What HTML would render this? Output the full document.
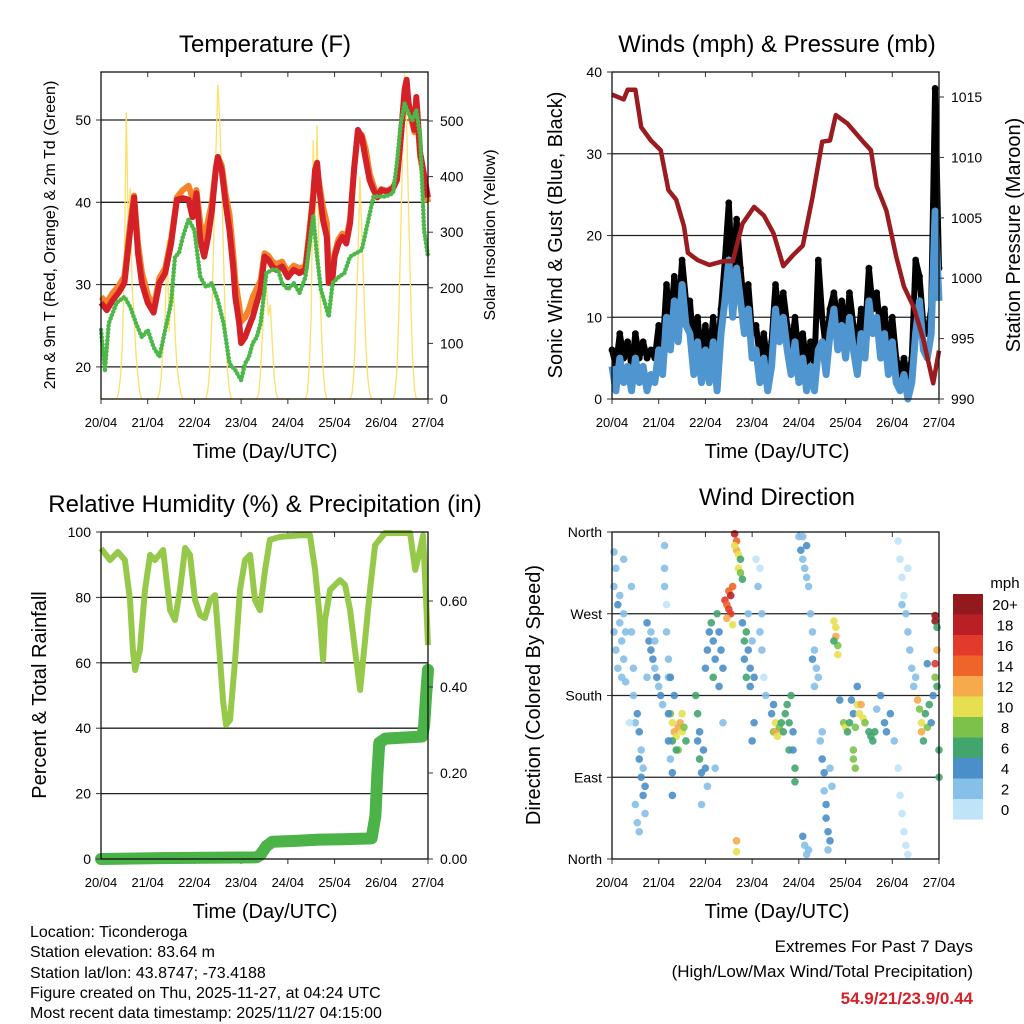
<!DOCTYPE html>
<html><head><meta charset="utf-8">
<style>
html,body{margin:0;padding:0;background:#fff;}
svg{display:block;font-family:"Liberation Sans",sans-serif;}
</style></head>
<body>
<svg id="chart" width="1024" height="1024" viewBox="0 0 1024 1024" xmlns="http://www.w3.org/2000/svg">
<rect x="0" y="0" width="1024" height="1024" fill="#fff"/>
<text x="265" y="52" font-size="24" text-anchor="middle">Temperature (F)</text>
<text x="777" y="52" font-size="24" text-anchor="middle">Winds (mph) &amp; Pressure (mb)</text>
<text x="265" y="512" font-size="24" text-anchor="middle">Relative Humidity (%) &amp; Precipitation (in)</text>
<text x="777" y="505" font-size="24" text-anchor="middle">Wind Direction</text>
<text transform="translate(55,235) rotate(-90)" font-size="16" text-anchor="middle">2m &amp; 9m T (Red, Orange) &amp; 2m Td (Green)</text>
<text transform="translate(495,235) rotate(-90)" font-size="16" text-anchor="middle">Solar Insolation (Yellow)</text>
<text transform="translate(562,235) rotate(-90)" font-size="20" text-anchor="middle">Sonic Wind &amp; Gust (Blue, Black)</text>
<text transform="translate(1020,235) rotate(-90)" font-size="20" text-anchor="middle">Station Pressure (Maroon)</text>
<text transform="translate(46,695) rotate(-90)" font-size="20" text-anchor="middle">Percent &amp; Total Rainfall</text>
<text transform="translate(540,695) rotate(-90)" font-size="20" text-anchor="middle">Direction (Colored By Speed)</text>
<text x="265" y="458" font-size="20" text-anchor="middle">Time (Day/UTC)</text>
<text x="777" y="458" font-size="20" text-anchor="middle">Time (Day/UTC)</text>
<text x="265" y="918" font-size="20" text-anchor="middle">Time (Day/UTC)</text>
<text x="777" y="918" font-size="20" text-anchor="middle">Time (Day/UTC)</text>
<g font-size="16">
<text x="30" y="937">Location: Ticonderoga</text>
<text x="30" y="957">Station elevation: 83.64 m</text>
<text x="30" y="978">Station lat/lon: 43.8747; -73.4188</text>
<text x="30" y="998">Figure created on Thu, 2025-11-27, at 04:24 UTC</text>
<text x="30" y="1018">Most recent data timestamp: 2025/11/27 04:15:00</text>
</g>
<g font-size="17" text-anchor="end">
<text x="973" y="952">Extremes For Past 7 Days</text>
<text x="973" y="977">(High/Low/Max Wind/Total Precipitation)</text>
<text x="973" y="1004" fill="#d42027" font-weight="bold">54.9/21/23.9/0.44</text>
</g>
<text x="1005" y="588" font-size="15" text-anchor="middle">mph</text>
</svg>
<script>
// ---------- data ----------
const dayLabels = ["20/04","21/04","22/04","23/04","24/04","25/04","26/04","27/04"];
const tempT = [0,3,6,9,12,15,17,19,21,24,27,30,33,36,39,42,45,47,49,51,53,55,57,59,60,62,64,66,68,69,71,72,74,76,78,80,82,84,86,88,90,93,96,99,102,105,107,109,110,111,112,114,116,117,119,120,122,124,126,128,130,132,134,136,138,140,142,144,147,150,152,154,156,157,158,160,161,162,164,168];
const temp2m = [27.8,26.9,28.1,29,30.2,36.6,40.6,33.8,30.2,27.8,26.6,30.2,31.4,35,40.3,40.5,40.3,38.2,41.1,35.4,33.4,35.8,39,43.9,45.5,43.9,39.9,36.6,31.8,28.5,25.3,22.9,23.6,24.9,26.1,27.8,29.4,33.4,33,32.2,31.8,32.2,30.9,31.8,31.4,31.8,35.8,40.6,43.9,44.8,41.9,37.9,35.8,30.2,30.9,33.4,35,35.8,35,37.5,43.9,48.8,47.9,45.2,42.7,41.5,40.6,41.5,41.3,41.7,42.7,47.9,53.7,54.9,52.1,50,48.8,52.8,46,40.6];
const temp9m = [28.5,27.8,29,29.8,31,37.5,40.8,35,31.5,28.8,27.2,30.8,32,35.5,40.6,41.5,42,40.5,41.5,37.5,35.5,37.8,40,44.2,45.5,44.5,41,38.5,33.5,30.5,27.5,25.5,26,27,28.5,29.5,30.5,33.8,33.5,32.8,32.5,32.8,31.5,32.3,32,32.2,36.5,41,44,44.5,42.5,39.5,37.5,31.5,31.5,33.8,35.5,36.2,35.5,38,44,48.5,48.2,46.5,43.5,42,40.8,41.6,41.4,41.8,42.8,48,53,54,51.8,49.5,48.5,52,45.5,40];
const dewT = [0,2,4,8,12,15,18,21,24,27,30,33,36,38,40,42,45,48,51,54,57,60,63,66,69,72,74,76,78,80,82,85,88,91,93,96,99,102,105,108,109,111,113,115,117,119,122,125,128,131,134,137,140,143,146,150,152,154,156,158,160,162,164,166,168];
const dewpoint = [24.5,19.6,25.3,27.8,28.5,27.3,25.3,23.6,24.5,22.4,21.2,24.5,27.8,33.4,33.8,35.8,37.9,36.6,30.9,29.7,30.2,28.1,25.3,20.4,19.6,18.4,20.4,21.2,22.9,23.6,25.3,31.4,31.8,31.8,30.2,29.4,30.2,29,30.9,36.6,38.3,33.4,29.4,27.8,26.1,30.2,30.9,31.4,33.4,33.8,34.2,37.5,40.7,40.7,40.7,41.1,44.7,49.6,52,50.8,50,51.2,48,36.6,33.4];
const solarT = [0,8,9,10,11,12,13,14,15,16,17,18,19,20,21,29,30,31,32,33,34,35,36,37,38,39,40,41,42,54,55,56,57,58,59,60,61,62,63,64,65,66,67,80,81,82,83,84,85,86,87,88,89,90,91,105,106,107,108,109,110,111,112,113,114,115,116,128,129,130,131,132,133,134,135,136,137,138,139,150,151,152,153,154,155,156,157,158,159,160,161,162,168];
const solarV = [0,0,10,40,100,250,516,300,380,200,150,80,40,10,0,0,10,40,100,150,286,120,200,232,120,60,30,10,0,0,20,60,150,300,435,565,502,400,250,120,50,15,0,0,10,50,120,180,201,150,170,100,40,10,0,0,10,60,150,466,300,493,250,150,60,15,0,0,10,50,150,250,400,300,200,100,40,10,0,0,10,50,150,300,450,586,500,350,200,80,20,0,0];
const windT = [0,2,4,6,8,10,12,14,16,18,20,22,24,26,28,30,32,34,36,38,40,42,44,46,48,50,52,54,56,58,60,62,64,66,68,70,72,74,76,78,80,82,84,86,88,90,92,94,96,98,100,102,104,106,108,110,112,114,116,118,120,122,124,126,128,130,132,134,136,138,140,142,144,146,148,150,152,154,156,158,160,162,164,166,168];
const windSpeed = [4,1,5,2,4,1,5,2,4,1,3,2,6,3,10,6,12,7,14,9,8,3,7,2,6,2,7,1,8,12,17,10,16,12,8,11,5,6,2,5,1,4,11,7,10,6,3,7,2,5,1,4,1,6,7,3,8,11,6,9,5,10,6,3,8,5,12,8,10,5,8,3,7,2,1,3,0,2,8,12,6,5,8,23,12];
const windGust = [6,4,8,5,7,4,8,5,7,5,6,5,9,6,14,9,15,10,17,12,12,6,10,5,9,5,10,4,11,17,24,14,22,16,11,14,8,9,5,8,4,7,14,10,13,9,6,10,5,8,4,7,4,17,10,6,11,13,9,12,8,13,9,6,11,8,16,11,13,8,11,6,10,5,3,5,2,5,17,15,9,8,11,38,16];
const presT = [0,6,8,12,15,20,25,29,33,37,39,44,50,57,62,67,73,78,83,88,93,98,103,108,112,115,121,129,133,136,141,146,150,155,160,165,168];
const pressure = [1015.2,1014.8,1015.6,1015.6,1012.5,1011.4,1010.6,1007.3,1006.5,1004.3,1002.1,1001.5,1001.1,1001.4,1001.4,1004.5,1005.9,1005.2,1003.7,1001,1001.9,1002.7,1006.7,1011.3,1011.4,1013.5,1012.8,1011.3,1010.6,1007.6,1005.6,1001.8,999.3,997.6,994.9,991.3,994];
const rhT = [0,4.6,8.7,12.3,14.9,16.4,17.5,20,22.6,25.2,27.7,31.9,35.5,38,40.6,43.2,45.7,48.3,50.9,53.4,56,58.6,61.2,62.7,64.2,66.3,68.9,71.4,74,76.6,79.1,81.7,84.3,86.8,92,102.3,107.4,110,112.5,114.1,115.1,117.7,122.8,125.4,128,130.5,133.1,135.7,138.2,140.8,145.9,158.8,161.4,163.9,165.5,167,168];
const rh = [95,91.4,93.9,91.4,79.2,63.9,57.8,63.9,82.3,93,91.4,94.5,76.1,73.1,82.3,95.1,93,79.2,74.6,73.7,79.2,80.7,60.9,48.6,41,42.5,60.9,82.3,91.4,93,79.2,76.1,88.4,97.6,98.5,99,99,88.4,73.1,60.9,73.1,82.3,85.3,83.8,76.1,63.9,51.7,67,82.3,96,99.7,99.7,88.4,94.5,99,79.2,65.4];
const rainT = [0,30,80,82,85,88,100,112,124,139,141,142,143,146,165,166,167,168];
const rain = [0,0.002,0.004,0.01,0.03,0.04,0.042,0.045,0.046,0.048,0.1,0.2,0.27,0.28,0.285,0.31,0.38,0.44];
const dirT = [1,1,2,2,3,3,4,4,5,5,6,6,7,7,1,6, 10,10,11,11,12,9, 13,14,14,15,15,16,16,17,17,13,14,12, 18,19,20,21,22,23,24,25,26,20,22,18, 27,27,28,28,29,29,27, 30,31,32,33,34,35,36,34,37,38,31,36,33, 29,30,31,31,29,32,30, 43,44,45,45,46,47,48,49,44,46, 48,49,50,51,52,53,54,55,56,57,52,55,53,57, 58,59,60,60,61,61,62,59,62, 63,64,64,65,65,66,66,67,63, 67,68,68,69,69,70,71,71,72,73,70,73,72, 74,75,76,77,78,77,79,76, 82,83,84,84,85,86,87,88,89,90,91,92,83,91, 93,94,94,93, 96,97,98,99,100,101,98,100,99,100,98,101, 102,103,104,105,104,106,103, 107,108,109,109,110,110,111,112,111,108,112,113, 114,115,115,116,116,114, 117,119,120,121,122,124,125,126,127,128,129,130,132,133,134,135,136,138,140,141,143,145,123,126, 124,124,125, 147,148,149,150,151,152,153,154,152,155,149,156, 147,148,149,150,151,152, 157,158,159,159,160,161,162,163,164,165,166,167,168,168,162, 166,166,167,166,167, 64,64];
const dirDeg = [300,250,320,230,280,210,260,290,240,200,270,220,250,195,338,330, 300,250,210,180,150,150, 160,140,110,120,90,100,70,80,50,40,30,60, 260,240,230,220,210,200,190,180,170,250,240,200, 345,300,280,250,220,200,320, 160,150,140,135,145,150,140,120,145,130,130,160,120, 130,110,95,70,160,180,200, 180,160,140,110,95,120,100,80,130,60, 210,230,250,260,240,220,270,250,230,210,200,190,100,150, 285,280,275,295,290,270,300,265,258, 358,350,340,335,320,315,330,308,345, 260,240,220,250,200,230,210,190,240,200,270,150,130, 330,300,250,230,200,270,180,320, 160,140,150,140,135,145,150,140,160,170,150,180,170,120, 120,100,85,140, 355,340,330,320,310,300,355,345,15,5,25,10, 270,250,230,210,190,200,220, 130,110,95,75,60,45,30,20,10,140,100,80, 262,255,245,235,225,240, 175,150,145,140,150,160,145,170,160,170,155,150,140,135,130,140,165,180,150,140,160,130,175,190, 120,110,100, 350,330,310,290,270,250,230,210,320,190,280,200, 100,70,50,30,15,5, 175,165,150,140,130,160,145,170,150,180,200,190,120,90,215, 268,262,255,215,230, 20,8];
const dirSpeed = [3,3,2,3,4,2,3,2,3,3,3,2,3,2,2,2, 2,2,2,2,2,1, 4,4,4,3,4,3,4,4,3,3,3,3, 4,4,4,4,3,4,3,4,3,2,2,2, 2,2,1,2,2,3,2, 8,11,12,10,13,12,10,8,9,7,6,11,6, 4,3,4,4,4,4,4, 6,6,5,6,4,4,4,3,4,3, 5,4,4,6,5,4,6,4,5,4,6,4,2,2, 16,14,17,15,18,17,14,13,11, 18,15,13,11,10,8,7,6,10, 4,6,5,6,7,4,5,4,3,4,3,4,4, 1,2,2,2,1,2,2,1, 5,9,10,12,10,8,7,6,7,6,7,6,4,6, 5,6,6,5, 3,4,3,3,2,3,2,4,3,2,4,3, 3,2,2,3,2,3,4, 3,4,4,3,4,4,4,4,3,3,2,3, 10,10,12,8,10,7, 4,8,10,7,6,5,8,10,11,12,10,8,6,6,7,6,3,4,4,5,4,3,4,4, 8,8,8, 1,0,1,1,2,2,3,3,1,2,2,3, 1,0,1,1,1,1, 12,8,10,12,7,6,8,6,4,5,8,6,6,6,4, 20,20,6,16,12, 12,10];
const cbLabels = ["20+","18","16","14","12","10","8","6","4","2","0"];
const cbColors = ["#921a1d","#bb1f26","#e23a2c","#ef6428","#f6aa4b","#e6e050","#7cc24a","#42a56e","#4a8fc9","#86bfe8","#bfe4f8"];

// ---------- scales ----------
const NS = "http://www.w3.org/2000/svg";
const svg = document.getElementById("chart");
const PW = 327, HOURS = 168;
const xL = t => 101 + t * PW / HOURS;
const xR = t => 612 + t * PW / HOURS;
const yTemp = v => 399 - (v - 16.1) * 8.23;
const ySolar = v => 399 - v * 0.556;
const yWind = v => 399 - v * 8.175;
const yPres = p => 399 - (p - 990) * 12.08;
const yRH = v => 859 - v * 3.27;
const yRain = r => 859 - r * 430;
const yDir = d => 532 + (360 - d) / 360 * 327;
function colorFor(s){ let i = Math.min(10, Math.floor(s / 2)); return cbColors[10 - i]; }

function mk(tag, attrs, parent){
  const el = document.createElementNS(NS, tag);
  for (const k in attrs) el.setAttribute(k, attrs[k]);
  (parent || svg).appendChild(el);
  return el;
}
function pts(ts, vs, fx, fy){ return ts.map((t,i)=>fx(t).toFixed(1)+","+fy(vs[i]).toFixed(1)).join(" "); }

// ---------- panel frames, grids, ticks ----------
function panel(x0, y0, name, gridYs){
  const g = mk("g", {});
  
  
  gridYs.forEach(y => {
    const l = mk("line", {x1:x0, x2:x0+PW, y1:y, y2:y, stroke:"#222", "stroke-width":1.3}, g);
    
    
  });
  dayLabels.forEach((lab, i) => {
    const x = x0 + i * 24 * PW / HOURS;
    const tb = mk("line", {x1:x, x2:x, y1:y0+PW, y2:y0+PW+5, stroke:"#333", "stroke-width":1}, g);
    
    
    const tt = mk("line", {x1:x, x2:x, y1:y0, y2:y0+5, stroke:"#333", "stroke-width":1}, g);
    
    
    const tx = mk("text", {x:x, y:y0+PW+28, "font-size":13, "text-anchor":"middle"}, g);
    tx.textContent = lab;
    
    
  });
  return g;
}
function frame(x0, y0, g){
  const r = mk("rect", {x:x0, y:y0, width:PW, height:PW, fill:"none", stroke:"#111", "stroke-width":1.3}, g);
  
  
}
function yTicks(vals, labels, fy, xAxis, side, g, name){
  vals.forEach((v,i) => {
    const y = fy(v);
    const dx = side === "left" ? -5 : 5;
    const tk = mk("line", {x1:xAxis, x2:xAxis+dx, y1:y, y2:y, stroke:"#333"}, g);
    
    
    const tx = mk("text", {x: side==="left" ? xAxis-10 : xAxis+12, y:y+5, "font-size":14, "text-anchor": side==="left"?"end":"start"}, g);
    tx.textContent = labels[i];
    
    
  });
}

// Panel 1: temperature
const g1 = panel(101, 72, "temperature-panel", [20,30,40,50].map(yTemp));
const sol = mk("polyline", {points:pts(solarT, solarV, xL, ySolar), fill:"none", stroke:"#fbe06a", "stroke-width":1.3}, g1);


const t9 = mk("polyline", {points:pts(tempT, temp9m, xL, yTemp), fill:"none", stroke:"#f6822a", "stroke-width":6, "stroke-linejoin":"round"}, g1);


const t2 = mk("polyline", {points:pts(tempT, temp2m, xL, yTemp), fill:"none", stroke:"#d42027", "stroke-width":6, "stroke-linejoin":"round"}, g1);


const td = mk("polyline", {points:pts(dewT, dewpoint, xL, yTemp), fill:"none", stroke:"#4cb848", "stroke-width":4.5, "stroke-dasharray":"0.1 3.6", "stroke-linecap":"round"}, g1);


frame(101, 72, g1);
yTicks([20,30,40,50], ["20","30","40","50"], yTemp, 101, "left", g1, "temp-y");
yTicks([0,100,200,300,400,500], ["0","100","200","300","400","500"], ySolar, 428, "right", g1, "solar-y");

// Panel 2: winds & pressure
const g2 = panel(612, 72, "winds-panel", [10,20,30].map(yWind));
const gl = mk("polyline", {points:pts(windT, windGust, xR, yWind), fill:"none", stroke:"#000", "stroke-width":6, "stroke-linejoin":"round"}, g2);


windT.forEach((t,i) => {
  const c = mk("circle", {cx:xR(t), cy:yWind(windGust[i]), r:3.4, fill:"#000"}, g2);
  
  
});
const ws = mk("polyline", {points:pts(windT, windSpeed, xR, yWind), fill:"none", stroke:"#4f96d0", "stroke-width":7, "stroke-linejoin":"round"}, g2);


const pr = mk("polyline", {points:pts(presT, pressure, xR, yPres), fill:"none", stroke:"#9b1c20", "stroke-width":4.5, "stroke-linejoin":"round"}, g2);


frame(612, 72, g2);
yTicks([0,10,20,30,40], ["0","10","20","30","40"], yWind, 612, "left", g2, "wind-y");
yTicks([990,995,1000,1005,1010,1015], ["990","995","1000","1005","1010","1015"], yPres, 939, "right", g2, "pressure-y");

// Panel 3: humidity & rain
const g3 = panel(101, 532, "humidity-panel", [20,40,60,80].map(yRH));
const rhl = mk("polyline", {points:pts(rhT, rh, xL, yRH), fill:"none", stroke:"#96c94a", "stroke-width":6, "stroke-linejoin":"round"}, g3);


const rl = mk("polyline", {points:pts(rainT, rain, xL, yRain), fill:"none", stroke:"#4bb347", "stroke-width":12, "stroke-linejoin":"round", "stroke-linecap":"round"}, g3);


frame(101, 532, g3);
yTicks([0,20,40,60,80,100], ["0","20","40","60","80","100"], yRH, 101, "left", g3, "humidity-y");
yTicks([0,0.2,0.4,0.6], ["0.00","0.20","0.40","0.60"], yRain, 428, "right", g3, "rain-y");

// Panel 4: wind direction
const g4 = panel(612, 532, "direction-panel", [270,180,90].map(yDir));
dirT.forEach((t,i) => {
  const c = mk("circle", {cx:xR(t), cy:yDir(dirDeg[i]), r:3.8, fill:colorFor(dirSpeed[i]), "fill-opacity":0.9}, g4);
  
  
});
frame(612, 532, g4);
yTicks([360,270,180,90,0], ["North","West","South","East","North"], yDir, 612, "left", g4, "direction-y");

// colorbar
const cb = mk("g", {});


cbLabels.forEach((lab,i) => {
  const y = 594 + i * 20.5;
  const r = mk("rect", {x:953, y:y, width:30, height:20.5, fill:cbColors[i]}, cb);
  
  
  const tx = mk("text", {x:1005, y:y+16, "font-size":15, "text-anchor":"middle"}, cb);
  tx.textContent = lab;
  
  
});
</script>
</body></html>
